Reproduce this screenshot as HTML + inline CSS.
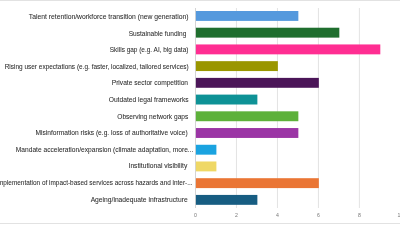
<!DOCTYPE html>
<html><head><meta charset="utf-8"><style>
html,body{margin:0;padding:0;width:400px;height:224px;overflow:hidden;background:#fff;position:relative}
.l{position:absolute;font-family:"Liberation Sans",sans-serif;font-size:8.0px;line-height:0;height:0;white-space:nowrap;color:#2b2b2b;-webkit-text-stroke:0.06px #2b2b2b;transform-origin:100% 0}
.topl{position:absolute;left:0;top:0;width:400px;height:1px;background:#e2e2e2}
.botl{position:absolute;left:0;top:222.5px;width:400px;height:1.5px;background:#e2e2e2}
svg{position:absolute;left:0;top:0}
</style></head><body>
<div class="topl"></div><div class="botl"></div>
<svg width="400" height="224" viewBox="0 0 400 224">
<line x1="236.48" y1="8" x2="236.48" y2="208" stroke="#dcdcdc" stroke-width="0.8"/><line x1="277.46" y1="8" x2="277.46" y2="208" stroke="#dcdcdc" stroke-width="0.8"/><line x1="318.44" y1="8" x2="318.44" y2="208" stroke="#dcdcdc" stroke-width="0.8"/><line x1="359.42" y1="8" x2="359.42" y2="208" stroke="#dcdcdc" stroke-width="0.8"/>
<line x1="195.5" y1="8" x2="195.5" y2="208" stroke="#cfcfcf" stroke-width="0.9"/>
<rect x="195.9" y="11.00" width="102.45" height="9.9" fill="#5599dd"/><rect x="195.9" y="27.72" width="143.43" height="9.9" fill="#1f6e2e"/><rect x="195.9" y="44.44" width="184.41" height="9.9" fill="#ff2e92"/><rect x="195.9" y="61.16" width="81.96" height="9.9" fill="#9a9600"/><rect x="195.9" y="77.88" width="122.94" height="9.9" fill="#4b1558"/><rect x="195.9" y="94.60" width="61.47" height="9.9" fill="#0e9296"/><rect x="195.9" y="111.32" width="102.45" height="9.9" fill="#5db13a"/><rect x="195.9" y="128.04" width="102.45" height="9.9" fill="#9b35a5"/><rect x="195.9" y="144.76" width="20.49" height="9.9" fill="#1aa3e0"/><rect x="195.9" y="161.48" width="20.49" height="9.9" fill="#efd865"/><rect x="195.9" y="178.20" width="122.94" height="9.9" fill="#ea7534"/><rect x="195.9" y="194.92" width="61.47" height="9.9" fill="#175d82"/>
<g font-family="Liberation Sans" font-size="5.2" fill="#777" style="filter:grayscale(1)"><text x="195.50" y="216.8" text-anchor="middle">0</text><text x="236.48" y="216.8" text-anchor="middle">2</text><text x="277.46" y="216.8" text-anchor="middle">4</text><text x="318.44" y="216.8" text-anchor="middle">6</text><text x="359.42" y="216.8" text-anchor="middle">8</text><text x="400.40" y="216.8" text-anchor="middle">10</text></g>
</svg>
<div style="position:absolute;left:0;top:0;width:400px;height:224px;filter:grayscale(1)"><div class="l" style="top:17.05px;right:211.30px;transform:scaleX(0.8470)">Talent retention/workforce transition (new generation)</div><div class="l" style="top:33.65px;right:213.40px;transform:scaleX(0.8196)">Sustainable funding</div><div class="l" style="top:50.25px;right:211.40px;transform:scaleX(0.8071)">Skills gap (e.g. AI, big data)</div><div class="l" style="top:66.85px;right:211.50px;transform:scaleX(0.8082)">Rising user expectations (e.g. faster, localized, tailored services)</div><div class="l" style="top:83.45px;right:211.70px;transform:scaleX(0.8290)">Private sector competition</div><div class="l" style="top:100.05px;right:211.10px;transform:scaleX(0.8358)">Outdated legal frameworks</div><div class="l" style="top:116.65px;right:212.00px;transform:scaleX(0.8231)">Observing network gaps</div><div class="l" style="top:133.25px;right:212.00px;transform:scaleX(0.8283)">Misinformation risks (e.g. loss of authoritative voice)</div><div class="l" style="top:149.85px;right:206.90px;transform:scaleX(0.8281)">Mandate acceleration/expansion (climate adaptation, more...</div><div class="l" style="top:166.45px;right:212.30px;transform:scaleX(0.8356)">Institutional visibility</div><div class="l" style="top:183.05px;right:207.10px;transform:scaleX(0.8030)">Implementation of impact-based services across hazards and inter-...</div><div class="l" style="top:199.65px;right:212.00px;transform:scaleX(0.8389)">Ageing/inadequate infrastructure</div></div>
</body></html>
